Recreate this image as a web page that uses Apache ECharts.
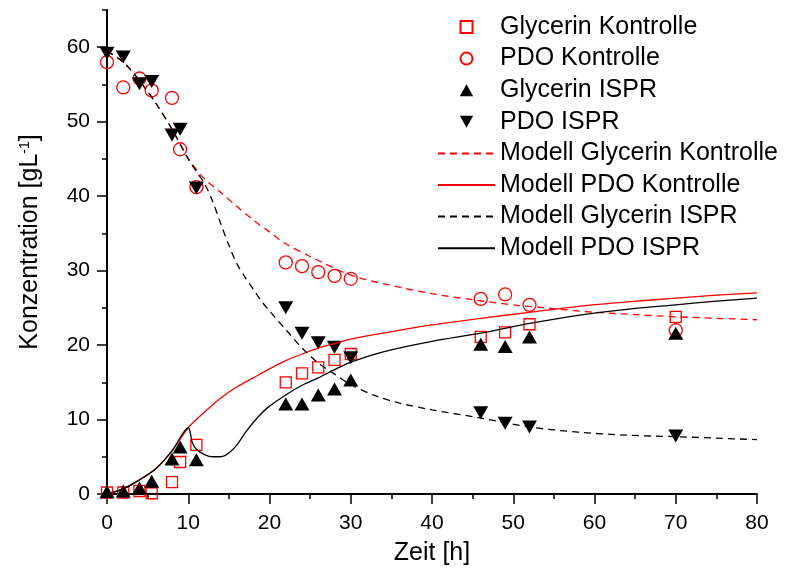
<!DOCTYPE html>
<html><head><meta charset="utf-8">
<script src="https://cdn.jsdelivr.net/npm/echarts@6/dist/echarts.min.js"></script>
<style>html,body{margin:0;padding:0;background:#fff}#c{width:787px;height:574px}</style>
</head><body><div id="c"></div>
<script>
// ---- measured data ----
const timeMeasured = [0, 2, 4, 5.5, 8, 9, 11, 22, 24, 26, 28, 30, 46, 49, 52, 70];
const glycerinKontrolle = [0.2, 0.2, 0.4, 0.1, 1.6, 4.3, 6.6, 15.0, 16.2, 17.0, 18.0, 18.8, 21.1, 21.7, 22.8, 23.8];
const pdoKontrolle = [58.0, 54.6, 55.8, 54.2, 53.2, 46.3, 41.2, 31.1, 30.6, 29.8, 29.3, 28.9, 26.2, 26.8, 25.4, 22.0];
const glycerinISPR = [0.3, 0.4, 0.8, 1.7, 4.7, 6.3, 4.6, 12.1, 12.1, 13.3, 14.1, 15.3, 20.1, 19.8, 21.1, 21.6];
const pdoISPR = [59.2, 58.7, 55.1, 55.4, 48.2, 49.0, 41.1, 25.0, 21.6, 20.3, 19.7, 18.3, 10.9, 9.5, 9.0, 7.8];

// ---- model curves ----
const modelGlyKontrolleT = [0, 2, 4, 6, 8, 10, 11, 12, 14, 16, 18, 20, 22, 25, 30, 35, 40, 45, 50, 55, 60, 65, 70, 75, 80];
const modelGlyKontrolle = [59.5, 58, 55.5, 52.5, 49, 45, 43.6, 42.3, 40.5, 38.6, 36.8, 35.2, 33.6, 31.9, 29.4, 28.0, 26.9, 26.1, 25.4, 24.9, 24.4, 24.1, 23.8, 23.6, 23.4];

const modelPdoKontrolleT = [0, 2, 4, 6, 8, 10, 12, 14, 16, 18, 20, 22, 24, 26, 28, 30, 34, 40, 46, 52, 58, 64, 70, 75, 80];
const modelPdoKontrolle = [0, 0.7, 1.9, 3.4, 5.8, 8.9, 11.0, 12.9, 14.4, 15.6, 16.8, 17.9, 18.8, 19.6, 20.2, 20.8, 21.6, 22.7, 23.6, 24.4, 25.2, 25.8, 26.3, 26.7, 27.0];

const modelGlyISPRT = [0, 2, 4, 6, 8, 10, 11, 12, 13, 14, 15, 16, 17, 18, 19, 20, 21, 22, 24, 26, 28, 30, 33, 36, 40, 46, 52, 58, 64, 70, 75, 80];
const modelGlyISPR = [59.5, 58, 55.5, 52.5, 49, 45, 43.3, 41.7, 39.3, 36.3, 33.4, 30.9, 29.1, 27.5, 25.9, 24.6, 23.3, 22.1, 19.6, 17.6, 16.1, 14.7, 13.2, 12.2, 11.3, 10.2, 9.0, 8.3, 7.9, 7.7, 7.5, 7.3];

const modelPdoISPRT = [0, 2, 4, 6, 8, 10, 10.5, 11, 12, 13, 14, 15, 16, 17, 18, 19, 20, 22, 24, 26, 28, 30, 34, 40, 46, 52, 58, 64, 70, 75, 80];
const modelPdoISPR = [0, 0.7, 1.9, 3.4, 5.8, 8.9, 6.9, 6.0, 5.3, 5.0, 5.0, 5.5, 6.6, 8.2, 9.6, 10.8, 11.8, 13.3, 14.6, 15.6, 16.7, 17.7, 19.1, 20.5, 21.6, 22.9, 24.0, 24.8, 25.4, 25.9, 26.3];

// ---- ticks ----
const yMajorTicks = [0, 10, 20, 30, 40, 50, 60];
const yMinorTicks = [5, 15, 25, 35, 45, 55, 65];

const RED = '#ff0000';
const FONT = '"Liberation Sans", Arial, sans-serif';
const pair = (xs, ys) => xs.map((x, i) => [x, ys[i]]);
const SQ = 'path://M0,0L10,0L10,10L0,10Z';
const UP = 'path://M5,0L10,9L0,9Z';
const DOWN = 'path://M0,0L10,0L5,9Z';
const hiddenSymbol = {opacity: 0, borderWidth: 0, color: 'transparent'};

const chart = echarts.init(document.getElementById('c'), null, {renderer: 'canvas'});
const axisLineStyle = {color: '#000', width: 2};
chart.setOption({
  animation: false,
  backgroundColor: '#fff',
  textStyle: {fontFamily: FONT},
  grid: {left: 107, right: 30, top: 10, bottom: 80, containLabel: false},
  xAxis: {
    type: 'value', min: 0, max: 80, interval: 10,
    name: 'Zeit [h]', nameLocation: 'middle', nameGap: 47,
    nameTextStyle: {fontSize: 25, color: '#000', fontFamily: FONT},
    axisLine: {lineStyle: axisLineStyle},
    axisTick: {inside: false, length: 10, lineStyle: {color: '#000', width: 1.5}},
    minorTick: {show: true, splitNumber: 2, length: 5, lineStyle: {color: '#000', width: 1.5}},
    axisLabel: {fontSize: 21, color: '#000', margin: 19, fontFamily: FONT},
    splitLine: {show: false}, minorSplitLine: {show: false}
  },
  yAxis: [{
    type: 'value', min: 0, max: 65, position: 'left',
    name: 'Konzentration [gL{sup|-1}]', nameLocation: 'middle', nameGap: 64,
    nameTextStyle: {fontSize: 25, color: '#000', fontFamily: FONT, padding: [0, 0, 0, 20],
      rich: {sup: {fontSize: 14, color: '#000', fontFamily: FONT, verticalAlign: 'top'}}},
    axisLine: {show: true, lineStyle: axisLineStyle},
    axisTick: {show: true, inside: false, length: 10, customValues: yMajorTicks, lineStyle: {color: '#000', width: 1.5}},
    axisLabel: {fontSize: 21, color: '#000', margin: 17, fontFamily: FONT, customValues: yMajorTicks},
    splitLine: {show: false}
  }, {
    type: 'value', min: 0, max: 65, position: 'left', offset: 0,
    axisLine: {show: false},
    axisTick: {show: true, inside: false, length: 5, customValues: yMinorTicks, lineStyle: {color: '#000', width: 1.5}},
    axisLabel: {show: false},
    splitLine: {show: false}
  }],
  legend: {
    orient: 'vertical', left: 432, top: 9,
    itemWidth: 57, itemHeight: 12, itemGap: 5.6,
    textStyle: {fontSize: 25, lineHeight: 26, color: '#000', fontFamily: FONT},
    data: [
      {name: 'Glycerin Kontrolle', icon: SQ},
      {name: 'PDO Kontrolle', icon: 'circle'},
      {name: 'Glycerin ISPR', icon: UP},
      {name: 'PDO ISPR', icon: DOWN},
      {name: 'Modell Glycerin Kontrolle', itemStyle: hiddenSymbol},
      {name: 'Modell PDO Kontrolle', itemStyle: hiddenSymbol},
      {name: 'Modell Glycerin ISPR', itemStyle: hiddenSymbol},
      {name: 'Modell PDO ISPR', itemStyle: hiddenSymbol}
    ]
  },
  series: [
    {name: 'Modell Glycerin Kontrolle', type: 'line', data: pair(modelGlyKontrolleT, modelGlyKontrolle),
     symbol: 'none', smooth: 0.3, color: RED, lineStyle: {color: RED, width: 1.3, type: [7, 5]}},
    {name: 'Modell PDO Kontrolle', type: 'line', data: pair(modelPdoKontrolleT, modelPdoKontrolle),
     symbol: 'none', smooth: 0.3, color: RED, lineStyle: {color: RED, width: 1.3, type: 'solid'}},
    {name: 'Modell Glycerin ISPR', type: 'line', data: pair(modelGlyISPRT, modelGlyISPR),
     symbol: 'none', smooth: 0.3, color: '#000', lineStyle: {color: '#000', width: 1.3, type: [7, 5]}},
    {name: 'Modell PDO ISPR', type: 'line', data: pair(modelPdoISPRT, modelPdoISPR),
     symbol: 'none', smooth: 0.3, color: '#000', lineStyle: {color: '#000', width: 1.3, type: 'solid'}},
    {name: 'Glycerin Kontrolle', type: 'scatter', data: pair(timeMeasured, glycerinKontrolle),
     symbol: 'rect', symbolSize: 11, itemStyle: {color: 'transparent', borderColor: RED, borderWidth: 1.3, opacity: 1}},
    {name: 'PDO Kontrolle', type: 'scatter', data: pair(timeMeasured, pdoKontrolle),
     symbol: 'circle', symbolSize: 13, itemStyle: {color: 'transparent', borderColor: RED, borderWidth: 1.3, opacity: 1}},
    {name: 'Glycerin ISPR', type: 'scatter', data: pair(timeMeasured, glycerinISPR),
     symbol: UP, symbolSize: [15, 13], itemStyle: {color: '#000', opacity: 1}},
    {name: 'PDO ISPR', type: 'scatter', data: pair(timeMeasured, pdoISPR),
     symbol: DOWN, symbolSize: [15, 13], itemStyle: {color: '#000', opacity: 1}}
  ]
});
</script>
</body></html>
